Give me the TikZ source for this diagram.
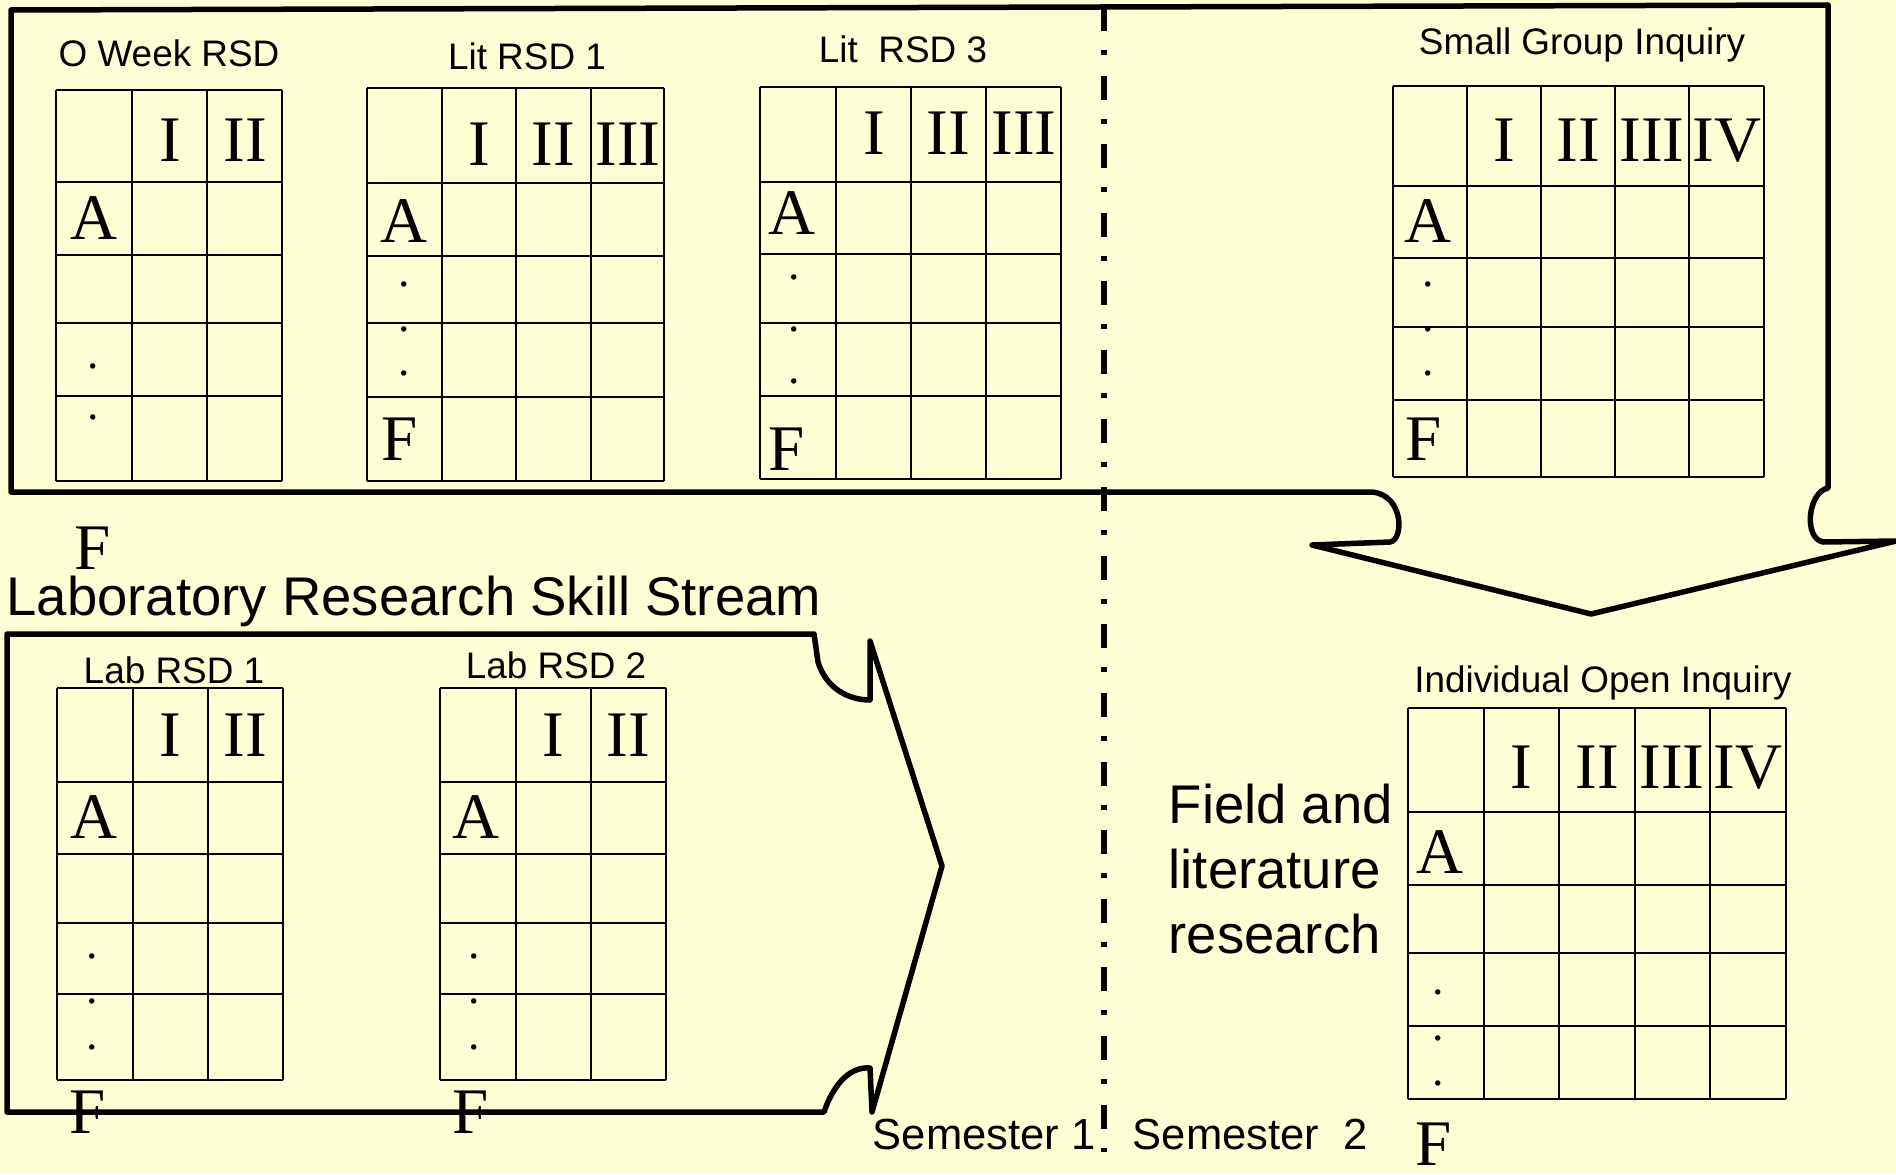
\documentclass[tikz,border=0pt]{standalone}
\usepackage{fontspec}
\setmainfont{Liberation Sans}
\newfontfamily\romanfont{Liberation Serif}
\usepackage{tikz}
\definecolor{slidebg}{RGB}{255,255,214}

\begin{document}
\begin{tikzpicture}[x=0.1mm,y=-0.1mm,
      rsdframe/.style={line width=0.55mm,line join=round},
      rsdcell/.style={line width=0.2mm},
      rsdtitle/.style={font=\fontsize{10.5}{12}\selectfont,inner sep=0pt,anchor=base},
      rsdnum/.style={font=\romanfont\fontsize{18.5}{18.5}\selectfont,inner sep=0pt,anchor=base},
      rsdletter/.style={font=\romanfont\fontsize{18.5}{18.5}\selectfont,inner sep=0pt},
      rsddot/.style={font=\romanfont\fontsize{13}{13}\selectfont,inner sep=0pt},
      streamtext/.style={font=\fontsize{15.5}{18.5}\selectfont,inner sep=0pt,align=left},
      semtext/.style={font=\fontsize{12.4}{14}\selectfont,inner sep=0pt,anchor=base west},
      semdivider/.style={line width=0.6mm,dash pattern=on 2.4mm off 1.9mm on 0.5mm off 2.06mm}]
    \fill[slidebg] (0,0) rectangle (1896,1174);
    \useasboundingbox (0,0) rectangle (1896,1174);

    % literature stream frame, pointing down to the open inquiry
    \draw[rsdframe] (1312,545) -- (1390,542) .. controls (1404,540) and (1404,495) .. (1372,492)
      -- (11,492) -- (11,10) -- (1828,5) -- (1828,488)
      .. controls (1808,492) and (1803,538) .. (1823,542) -- (1896,541) -- (1591,614) -- cycle;
    % laboratory stream frame, pointing right
    \draw[rsdframe] (7,634) -- (814,634) -- (818,662) .. controls (826,688) and (848,700) .. (870,700)
      -- (870,641) -- (942,866) -- (872,1112) -- (870,1068)
      .. controls (848,1066) and (832,1088) .. (824,1112) -- (7,1112) -- cycle;
    % semester divider
    \draw[semdivider] (1104,7) -- (1104,1152);

    % O Week RSD
    \foreach \x in {56,132,207,282} \draw[rsdcell] (\x,90) -- (\x,481);
    \foreach \y in {90,182,255,323,396,481} \draw[rsdcell] (56,\y) -- (282,\y);
    \node[rsdtitle] (owk) at (169,67) {O Week RSD};
    \foreach \x/\t [count=\i] in {170/I,245/II} \node[rsdnum] (owk-\i) at (\x,162) {\t};
    \node[rsdletter] (owk-A) at (94,218) {A};
    \node[rsddot] (owk-d1) at (93,366) {.};
    \node[rsddot] (owk-d2) at (93,417) {.};
    \node[rsdletter] (owk-F) at (93,548) {F};

    % Lit RSD 1
    \foreach \x in {367,442,516,591,664} \draw[rsdcell] (\x,88) -- (\x,481);
    \foreach \y in {88,183,256,323,397,481} \draw[rsdcell] (367,\y) -- (664,\y);
    \node[rsdtitle] (lit1) at (527,70) {Lit RSD 1};
    \foreach \x/\t [count=\i] in {479/I,553/II,628/III} \node[rsdnum] (lit1-\i) at (\x,165) {\t};
    \node[rsdletter] (lit1-A) at (404,221) {A};
    \foreach \y [count=\i] in {284,329,373} \node[rsddot] (lit1-d\i) at (404,\y) {.};
    \node[rsdletter] (lit1-F) at (400,439) {F};

    % Lit RSD 3
    \foreach \x in {760,836,911,986,1061} \draw[rsdcell] (\x,87) -- (\x,479);
    \foreach \y in {87,182,254,323,396,479} \draw[rsdcell] (760,\y) -- (1061,\y);
    \node[rsdtitle] (lit3) at (903,63) {Lit~~RSD 3};
    \foreach \x/\t [count=\i] in {874/I,948/II,1024/III} \node[rsdnum] (lit3-\i) at (\x,155) {\t};
    \node[rsdletter] (lit3-A) at (792,213) {A};
    \foreach \y [count=\i] in {277,329,381} \node[rsddot] (lit3-d\i) at (794,\y) {.};
    \node[rsdletter] (lit3-F) at (787,449) {F};

    % Small Group Inquiry
    \foreach \x in {1393,1467,1541,1615,1689,1764} \draw[rsdcell] (\x,86) -- (\x,477);
    \foreach \y in {86,186,258,327,400,477} \draw[rsdcell] (1393,\y) -- (1764,\y);
    \node[rsdtitle] (sgi) at (1582,55) {Small Group Inquiry};
    \foreach \x/\t [count=\i] in {1504/I,1578/II,1652/III,1727/IV} \node[rsdnum] (sgi-\i) at (\x,162) {\t};
    \node[rsdletter] (sgi-A) at (1428,221) {A};
    \foreach \y [count=\i] in {284,329,373} \node[rsddot] (sgi-d\i) at (1428,\y) {.};
    \node[rsdletter] (sgi-F) at (1424,439) {F};

    % laboratory stream
    \node[streamtext,anchor=base west] (labstream) at (6,615) {Laboratory Research Skill Stream};

    % Lab RSD 1
    \foreach \x in {57,133,208,283} \draw[rsdcell] (\x,688) -- (\x,1080);
    \foreach \y in {688,782,854,923,994,1080} \draw[rsdcell] (57,\y) -- (283,\y);
    \node[rsdtitle] (lab1) at (174,683) {Lab RSD 1};
    \foreach \x/\t [count=\i] in {170/I,245/II} \node[rsdnum] (lab1-\i) at (\x,756) {\t};
    \node[rsdletter] (lab1-A) at (94,817) {A};
    \foreach \y [count=\i] in {956,1001,1047} \node[rsddot] (lab1-d\i) at (92,\y) {.};
    \node[rsdletter] (lab1-F) at (88,1112) {F};

    % Lab RSD 2
    \foreach \x in {440,516,591,666} \draw[rsdcell] (\x,688) -- (\x,1080);
    \foreach \y in {688,782,854,923,994,1080} \draw[rsdcell] (440,\y) -- (666,\y);
    \node[rsdtitle] (lab2) at (556,678) {Lab RSD 2};
    \foreach \x/\t [count=\i] in {553/I,628/II} \node[rsdnum] (lab2-\i) at (\x,756) {\t};
    \node[rsdletter] (lab2-A) at (476,817) {A};
    \foreach \y [count=\i] in {956,1001,1047} \node[rsddot] (lab2-d\i) at (474,\y) {.};
    \node[rsdletter] (lab2-F) at (471,1112) {F};

    % Individual Open Inquiry
    \foreach \x in {1408,1484,1559,1635,1710,1786} \draw[rsdcell] (\x,708) -- (\x,1099);
    \foreach \y in {708,812,885,953,1026,1099} \draw[rsdcell] (1408,\y) -- (1786,\y);
    \node[rsdtitle] (ioi) at (1603,692) {Individual Open Inquiry};
    \foreach \x/\t [count=\i] in {1521/I,1597/II,1672/III,1748/IV} \node[rsdnum] (ioi-\i) at (\x,788) {\t};
    \node[rsdletter] (ioi-A) at (1440,852) {A};
    \foreach \y [count=\i] in {992,1038,1083} \node[rsddot] (ioi-d\i) at (1438,\y) {.};
    \node[rsdletter] (ioi-F) at (1434,1144) {F};
    \node[streamtext,anchor=north west] (field) at (1168,783) {Field and\\literature\\research};

    % semesters
    \node[semtext] (sem1) at (872,1149) {Semester 1};
    \node[semtext] (sem2) at (1132,1149) {Semester~~2};
  \end{tikzpicture}
\end{document}
